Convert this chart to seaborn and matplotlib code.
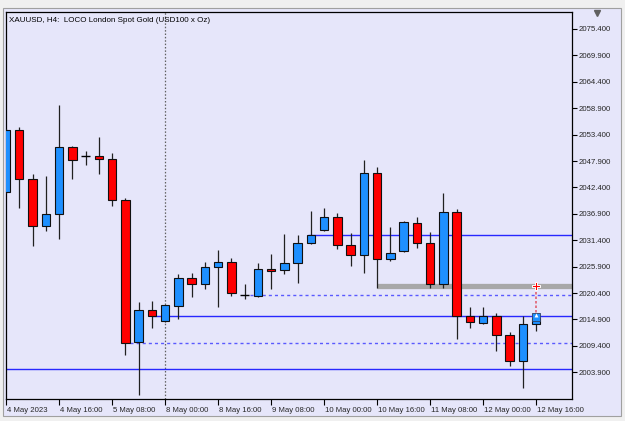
import matplotlib
matplotlib.use("Agg")
import matplotlib.pyplot as plt
import seaborn as sns
import numpy as np
import pandas as pd
from matplotlib.patches import Rectangle
from matplotlib.lines import Line2D

# ---------------- data (XAUUSD H4) ----------------
opens = [2041.5, 2054.36, 2044.1, 2034.36, 2036.8, 2050.75, 2048.9, 2048.88, 2048.3, 2039.7,
         2010.1, 2016.86, 2014.5, 2017.75, 2023.46, 2022.28, 2025.88, 2026.9, 2019.98, 2019.84,
         2025.4, 2025.2, 2026.6, 2030.75, 2033.46, 2036.23, 2030.34, 2028.3, 2045.34, 2027.42,
         2029.2, 2035.06, 2030.9, 2022.28, 2037.3, 2015.55, 2014.09, 2015.55, 2011.6, 2006.3,
         2013.94]
highs = [2054.6, 2054.92, 2045.2, 2044.7, 2059.57, 2051.0, 2050.05, 2052.84, 2049.5, 2040.1,
         2018.5, 2018.7, 2018.0, 2024.36, 2024.6, 2026.8, 2029.36, 2027.6, 2022.2, 2026.6,
         2028.5, 2032.7, 2032.5, 2037.5, 2038.05, 2037.0, 2032.8, 2048.1, 2046.6, 2034.1,
         2035.4, 2036.3, 2033.05, 2041.17, 2037.84, 2017.55, 2017.4, 2016.17, 2012.34, 2015.7,
         2015.6]
lows = [2041.3, 2038.05, 2030.2, 2033.4, 2031.7, 2044.2, 2047.1, 2045.2, 2038.6, 2007.4,
        1999.15, 2013.05, 2014.3, 2014.9, 2019.6, 2021.2, 2017.55, 2019.84, 2019.15, 2019.47,
        2021.2, 2024.36, 2022.55, 2030.55, 2033.4, 2029.5, 2026.0, 2024.6, 2021.4, 2027.07,
        2029.0, 2029.84, 2021.4, 2021.5, 2010.9, 2013.1, 2014.0, 2008.3, 2005.2, 2000.55,
        2012.5]
closes = [2054.36, 2044.15, 2034.36, 2036.8, 2050.75, 2048.1, 2048.9, 2048.25, 2039.7, 2010.05,
          2016.86, 2015.6, 2017.84, 2023.46, 2022.28, 2025.75, 2026.92, 2020.34, 2019.98, 2025.4,
          2025.05, 2026.6, 2030.75, 2032.5, 2036.23, 2030.34, 2028.3, 2045.34, 2027.42, 2028.67,
          2035.13, 2030.9, 2022.28, 2037.3, 2015.55, 2014.36, 2015.55, 2011.6, 2006.3, 2013.88,
          2015.25]

time_ticks = [0, 4, 8, 12, 16, 20, 24, 28, 32, 36, 40]
time_labels = ["4 May 2023", "4 May 16:00", "5 May 08:00", "8 May 00:00", "8 May 16:00",
               "9 May 08:00", "10 May 00:00", "10 May 16:00", "11 May 08:00",
               "12 May 00:00", "12 May 16:00"]
price_ticks = [2003.9, 2009.4, 2014.9, 2020.4, 2025.9, 2031.4, 2036.9, 2042.4,
               2047.9, 2053.4, 2058.9, 2064.4, 2069.9, 2075.4]

# horizontal levels: (price, start bar, style)
solid_levels = [(2032.42, 22.75), (2015.6, 11.0), (2004.57, -1.0)]
dashed_levels = [(2020.05, 18.4), (2010.05, 9.35)]
gray_level = (2021.85, 28.0)
vline_bar = 12.0
trade_bar = 40
trade_open = 2021.85
trade_now = 2015.5

title = "XAUUSD, H4:  LOCO London Spot Gold (USD100 x Oz)"

# ---------------- style ----------------
sns.set_style("white")
plt.rcParams['font.family'] = ['Liberation Sans', 'DejaVu Sans']

W, H = 625, 421
fig = plt.figure(figsize=(W / 100, H / 100), dpi=100)
fig.patch.set_facecolor("#F0F0F0")

lav = "#E6E6FA"
# inner panel
fig.add_artist(Rectangle((3 / W, 1 - 416 / H), (621 - 3) / W, (416 - 8) / H,
                         transform=fig.transFigure, facecolor=lav,
                         edgecolor="#A0A0A0", linewidth=0.8, zorder=0))

ax = fig.add_axes([6 / W, 1 - 399 / H, (572 - 6) / W, (399 - 12) / H])
ax.set_facecolor(lav)
for s in ax.spines.values():
    s.set_color("black")
    s.set_linewidth(0.9)

df = pd.DataFrame({"o": opens, "h": highs, "l": lows, "c": closes})
df["x"] = np.arange(len(df))

# wicks
ax.vlines(df["x"], df["l"], df["h"], color="#202020", linewidth=0.9, zorder=3)

bw = 0.64
for _, r in df.iterrows():
    if abs(r.c - r.o) < 0.05:
        ax.hlines(r.o, r.x - bw / 2, r.x + bw / 2, color="black", linewidth=1.0, zorder=4)
        continue
    col = "#1E90FF" if r.c > r.o else "#FF0000"
    lo = min(r.o, r.c)
    ax.bar(r.x, abs(r.c - r.o), bottom=lo, width=bw, color=col,
           edgecolor="#101010", linewidth=0.8, zorder=4)

xmin, xmax = 0.0, 42.7
ax.set_xlim(xmin, xmax)
ax.set_ylim(1998.32, 2078.94)

# levels
for p, x0 in solid_levels:
    ax.hlines(p, max(x0, xmin), xmax, color="#2828FF", linewidth=1.0, zorder=2)
for p, x0 in dashed_levels:
    ax.hlines(p, x0, xmax, color="#5A5AFF", linewidth=1.0, linestyles=(0, (2.2, 2.2)), zorder=2)
ax.hlines(gray_level[0], gray_level[1], xmax, color="#A8A8A8", linewidth=3.8, zorder=2)
ax.axvline(vline_bar, color="#606060", linewidth=0.9, linestyle=(0, (1.2, 1.5)), zorder=1)

# trade line and markers
ax.vlines(trade_bar, trade_now, trade_open, color="#E06070", linewidth=1.2,
          linestyles=(0, (1.5, 1.2)), zorder=5)
mk = pd.DataFrame({"x": [trade_bar], "y": [trade_open]})
sns.scatterplot(data=mk, x="x", y="y", marker="P", s=38, color="#FF0000",
                edgecolor="white", linewidth=0.7, ax=ax, zorder=6, legend=False)
mk2 = pd.DataFrame({"x": [trade_bar], "y": [trade_now]})
sns.scatterplot(data=mk2, x="x", y="y", marker="s", s=30, color="#1E90FF",
                edgecolor="#304060", linewidth=0.6, ax=ax, zorder=6, legend=False)
ax.scatter([trade_bar], [trade_now + 0.3], marker="^", s=8, color="white", zorder=7, linewidths=0)

# axes ticks
ax.set_xlabel("")
ax.set_ylabel("")
ax.set_xticks(time_ticks)
ax.set_xticklabels(time_labels, ha="left")
ax.yaxis.tick_right()
ax.set_yticks(price_ticks)
ax.set_yticklabels([f"{v:.3f}" for v in price_ticks])
ax.tick_params(axis="x", direction="out", length=4, width=0.8, color="black",
               labelsize=5.6, pad=1.5, bottom=True)
ax.tick_params(axis="y", direction="out", length=3.5, width=0.8, color="black",
               labelsize=5.6, pad=1.0, right=True, left=False)
for lbl in ax.get_xticklabels():
    lbl.set_transform(lbl.get_transform() + matplotlib.transforms.ScaledTranslation(0.5 / 72, 0, fig.dpi_scale_trans))

ax.text(3 / (566), 1 - 5 / 387, title, transform=ax.transAxes, ha="left", va="top",
        fontsize=5.8, color="black", zorder=8)

# shift marker
fig.add_artist(Line2D([597 / W], [1 - 13 / H], marker="v", markersize=4.5,
                      color="#606060", transform=fig.transFigure))

fig.savefig("out.png", dpi=100, facecolor=fig.get_facecolor())
